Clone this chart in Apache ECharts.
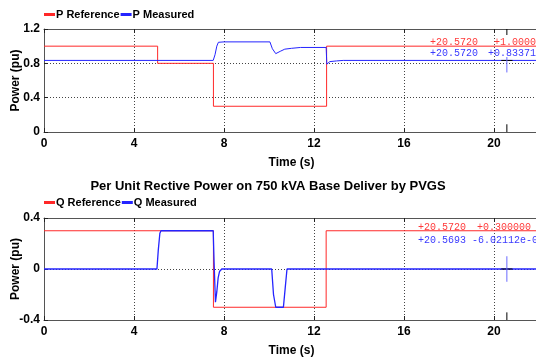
<!DOCTYPE html>
<html><head><meta charset="utf-8">
<script src="https://cdn.jsdelivr.net/npm/echarts@6/dist/echarts.min.js"></script>
<style>html,body{margin:0;padding:0;background:#fff}#c{width:536px;height:359px}</style>
</head><body><div id="c"></div>
<script>
// ---- data ----
const xTicks = [0, 4, 8, 12, 16, 20];
const pRefT = [0, 5.05, 5.05, 7.53, 7.53, 12.56, 12.56, 22];
const pRefV = [1.0, 1.0, 0.8, 0.8, 0.3, 0.3, 1.0, 1.0];
const pMeasT = [0, 7.52, 7.6, 7.68, 7.75, 8.0, 10.04, 10.15, 10.3, 10.5, 10.7, 11.0, 11.4, 12.54, 12.57, 12.62, 12.7, 13.0, 13.3, 22];
const pMeasV = [0.834, 0.834, 0.9, 1.0, 1.045, 1.05, 1.05, 0.97, 0.913, 0.94, 0.965, 0.975, 0.985, 0.985, 0.79, 0.81, 0.82, 0.828, 0.834, 0.834];
const qRefT = [0, 7.53, 7.53, 12.54, 12.54, 22];
const qRefV = [0.3, 0.3, -0.3, -0.3, 0.3, 0.3];
const qMeasT = [0, 5.02, 5.08, 5.15, 5.2, 7.52, 7.56, 7.62, 7.68, 7.74, 7.8, 7.9, 10.12, 10.2, 10.3, 10.64, 10.72, 10.8, 22];
const qMeasV = [0, 0, 0.15, 0.28, 0.3, 0.3, 0.05, -0.26, -0.18, -0.07, -0.02, 0, 0, -0.2, -0.3, -0.3, -0.15, 0, 0];
const cursorT = 20.572;
const pCursorV = [0.8337];
const qCursorV = [0];
const pLabels = ['P Reference', 'P Measured'];
const qLabels = ['Q Reference', 'Q Measured'];
const title2 = 'Per Unit Rective Power on 750 kVA Base Deliver by PVGS';
const annTop = [['+20.5720', '+1.00000'], ['+20.5720', '+0.833710']];
const annBot = [['+20.5720', '+0.300000'], ['+20.5693', '-6.02112e-004']];

const zip = (t, v) => t.map((x, i) => [x, v[i]]);
const RED = '#ff2828', BLUE = '#2424ff';
const FONT = '"Liberation Sans", Arial, sans-serif';
const MONO = '"Liberation Mono", "DejaVu Sans Mono", monospace';

const grids = [
  {left: 44, top: 29, height: 103, right: -3, containLabel: false, outerBoundsMode: 'none'},
  {left: 44, top: 218, height: 102, right: -3, containLabel: false, outerBoundsMode: 'none'}
];
function xAx(gi, pos, showLab) {
  return {
    type: 'value', gridIndex: gi, position: pos, min: 0, max: 22, interval: 4,
    name: showLab ? 'Time (s)' : '', nameLocation: 'middle', nameGap: 25, nameMoveOverlap: false,
    nameTextStyle: {fontFamily: FONT, fontWeight: 'bold', fontSize: 12, color: '#000'},
    axisLine: {show: true, onZero: false, lineStyle: {color: '#555', width: 1}},
    axisTick: {show: true, inside: true, length: 4, lineStyle: {color: '#222'}},
    axisLabel: {show: showLab, margin: 6, fontFamily: FONT, fontWeight: 'bold', fontSize: 12, color: '#000',
      formatter: v => xTicks.includes(v) ? String(v) : ''},
    splitLine: {show: showLab, lineStyle: {color: '#444', type: [1, 2], width: 1}}
  };
}
function yAx(gi, min, max) {
  return {
    type: 'value', gridIndex: gi, min: min, max: max, interval: 0.4,
    name: 'Power (pu)', nameLocation: 'middle', nameGap: 22, nameRotate: 90, nameMoveOverlap: false,
    nameTextStyle: {fontFamily: FONT, fontWeight: 'bold', fontSize: 12, color: '#000'},
    axisLine: {show: true, onZero: false, lineStyle: {color: '#555', width: 1}},
    axisTick: {show: true, inside: true, length: 4, lineStyle: {color: '#222'}},
    axisLabel: {margin: 4, fontFamily: FONT, fontWeight: 'bold', fontSize: 12, color: '#000',
      formatter: v => String(Math.round(v * 10) / 10)},
    splitLine: {show: true, lineStyle: {color: '#444', type: [1, 2], width: 1}}
  };
}
function ln(name, xi, data, color, w) {
  return {name, type: 'line', xAxisIndex: xi, yAxisIndex: xi < 2 ? 0 : 1, data, showSymbol: false, symbol: 'none',
    lineStyle: {color, width: w || 1}, itemStyle: {color}, animation: false, z: 3};
}
const topCur = [[cursorT, 1.2], [cursorT, 1.13], [null, null], [cursorT, 0.09], [cursorT, 0], [null, null],
  [cursorT - 0.25, pCursorV[0]], [cursorT + 0.25, pCursorV[0]]];
const topCurBlue = [[cursorT, pCursorV[0] + 0.04], [cursorT, pCursorV[0] - 0.14]];
const botCur = [[cursorT, -0.34], [cursorT, -0.4], [null, null],
  [cursorT - 0.25, qCursorV[0]], [cursorT + 0.25, qCursorV[0]]];
const botCurBlue = [[cursorT, qCursorV[0] + 0.1], [cursorT, qCursorV[0] - 0.1]];

function annText(rows, xs, y0, dy) {
  const out = [];
  rows.forEach((r, i) => {
    const c = i === 0 ? '#ff3a3a' : '#3a3aff';
    out.push({type: 'text', left: xs[i][0], top: y0 + i * dy, z: 10, style: {text: r[0], fill: c, font: '10px ' + MONO}});
    out.push({type: 'text', left: xs[i][1], top: y0 + i * dy, z: 10, style: {text: r[1], fill: c, font: '10px ' + MONO}});
  });
  return out;
}

const chart = echarts.init(document.getElementById('c'), null, {renderer: 'canvas'});
chart.setOption({
  animation: false,
  backgroundColor: '#fff',
  title: {text: title2, left: 'center', top: 180, padding: 0,
    textStyle: {fontFamily: FONT, fontWeight: 'bold', fontSize: 13, color: '#000'}},
  legend: [
    {data: pLabels, left: 44, top: 9, padding: 0, itemGap: 1, itemWidth: 11, itemHeight: 3, icon: 'rect',
      textStyle: {fontFamily: FONT, fontWeight: 'bold', fontSize: 11, color: '#000', padding: [0, 0, 0, -4]}},
    {data: qLabels, left: 44, top: 197, padding: 0, itemGap: 1, itemWidth: 11, itemHeight: 3, icon: 'rect',
      textStyle: {fontFamily: FONT, fontWeight: 'bold', fontSize: 11, color: '#000', padding: [0, 0, 0, -4]}}
  ],
  grid: grids,
  xAxis: [xAx(0, 'bottom', true), xAx(0, 'top', false), xAx(1, 'bottom', true), xAx(1, 'top', false)],
  yAxis: [yAx(0, 0, 1.2), yAx(1, -0.4, 0.4)],
  series: [
    ln('P Reference', 0, zip(pRefT, pRefV), RED),
    ln('P Measured', 0, zip(pMeasT, pMeasV), BLUE),
    ln('Q Reference', 2, zip(qRefT, qRefV), RED),
    ln('Q Measured', 2, zip(qMeasT, qMeasV), BLUE, 1.3),
    Object.assign(ln('cur1', 0, topCur, '#000'), {connectNulls: false, z: 5}),
    Object.assign(ln('cur1b', 0, topCurBlue, '#6a6aff'), {z: 5}),
    Object.assign(ln('cur2', 2, botCur, '#000'), {connectNulls: false, z: 5}),
    Object.assign(ln('cur2b', 2, botCurBlue, '#6a6aff'), {z: 5})
  ],
  graphic: [].concat(annText(annTop, [[430, 494], [430, 488]], 37, 11),
                     annText(annBot, [[418, 477], [418, 472]], 222, 13))
});
</script></body></html>
